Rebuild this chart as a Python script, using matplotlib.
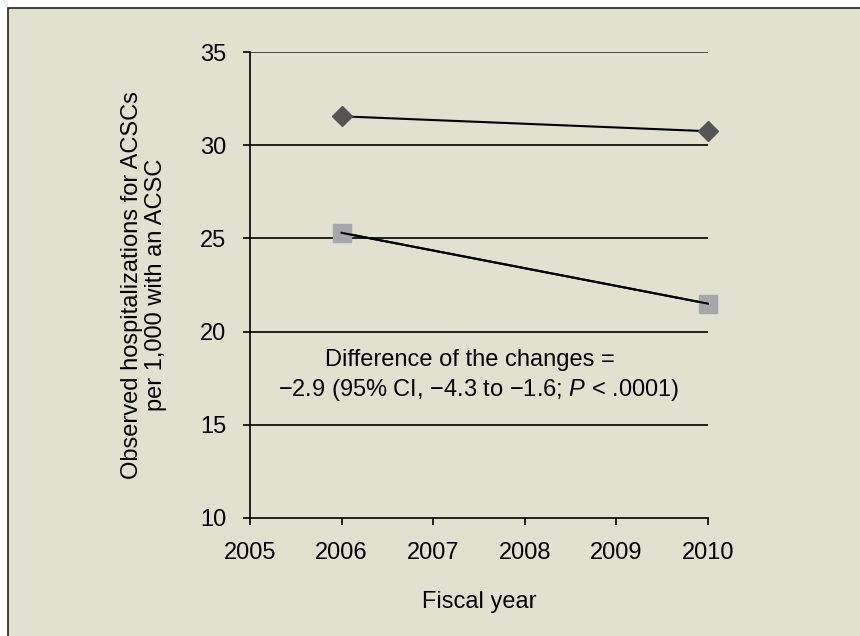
import matplotlib.pyplot as plt
from matplotlib.patches import Rectangle

plt.rcParams['font.family'] = ['Liberation Sans', 'DejaVu Sans']
plt.rcParams['mathtext.fontset'] = 'custom'
plt.rcParams['mathtext.it'] = 'Liberation Sans:italic'
plt.rcParams['mathtext.rm'] = 'Liberation Sans'

years = [2006, 2010]
group_a = [31.55, 30.75]   # diamonds
group_b = [25.3, 21.5]     # squares
xticks = [2005, 2006, 2007, 2008, 2009, 2010]
yticks = [10, 15, 20, 25, 30, 35]

bg = '#e2e0cf'
fs = 17

fig = plt.figure(figsize=(8.6, 6.36), dpi=100)
fig.patch.set_facecolor('white')
panel = Rectangle((8 / 860, -0.5), 2.0, 1.5 - 8 / 636,
                  transform=fig.transFigure, facecolor=bg,
                  edgecolor='#222222', linewidth=1.2, zorder=-10)
fig.add_artist(panel)

ax = fig.add_axes([250 / 860, 1 - 518 / 636, 458 / 860, 466 / 636])
ax.set_zorder(5)
ax.set_facecolor('none')

ax.plot(years, group_a, color='black', lw=1.5, marker='D', ms=10,
        mfc='#555555', mec='#555555', zorder=3, clip_on=False)
ax.plot(years, group_b, color='black', lw=1.5, marker='s', ms=12.5,
        mfc='#a6a6ab', mec='#a6a6ab', zorder=3, clip_on=False)
# line drawn on top of the squares
ax.plot(years, group_b, color='black', lw=1.5, zorder=4, clip_on=False)

ax.set_xlim(2005, 2010)
ax.set_ylim(10, 35)
ax.set_xticks(xticks)
ax.set_yticks(yticks)
ax.tick_params(axis='both', direction='out', length=5, width=1.2,
               labelsize=fs, pad=12, color='black')
for y in yticks[1:]:
    ax.axhline(y, color='#333333' if y == 35 else 'black', lw=1.2, zorder=1)

for s in ['top', 'right']:
    ax.spines[s].set_visible(False)
for s in ['left', 'bottom']:
    ax.spines[s].set_linewidth(1.2)

ax.set_xlabel('Fiscal year', fontsize=fs, labelpad=20)
ax.set_ylabel('Observed hospitalizations for ACSCs\nper 1,000 with an ACSC',
              fontsize=fs, labelpad=24, linespacing=1.1)

ax.text(470 / 860, 1 - 360 / 636, 'Difference of the changes =',
        transform=fig.transFigure, fontsize=fs, ha='center', va='center')
ax.text(479 / 860, 1 - 390 / 636,
        '\u22122.9 (95% CI, \u22124.3 to \u22121.6; $P$ < .0001)',
        transform=fig.transFigure, fontsize=fs, ha='center', va='center')

fig.savefig('out.png', dpi=100, facecolor=fig.get_facecolor())
